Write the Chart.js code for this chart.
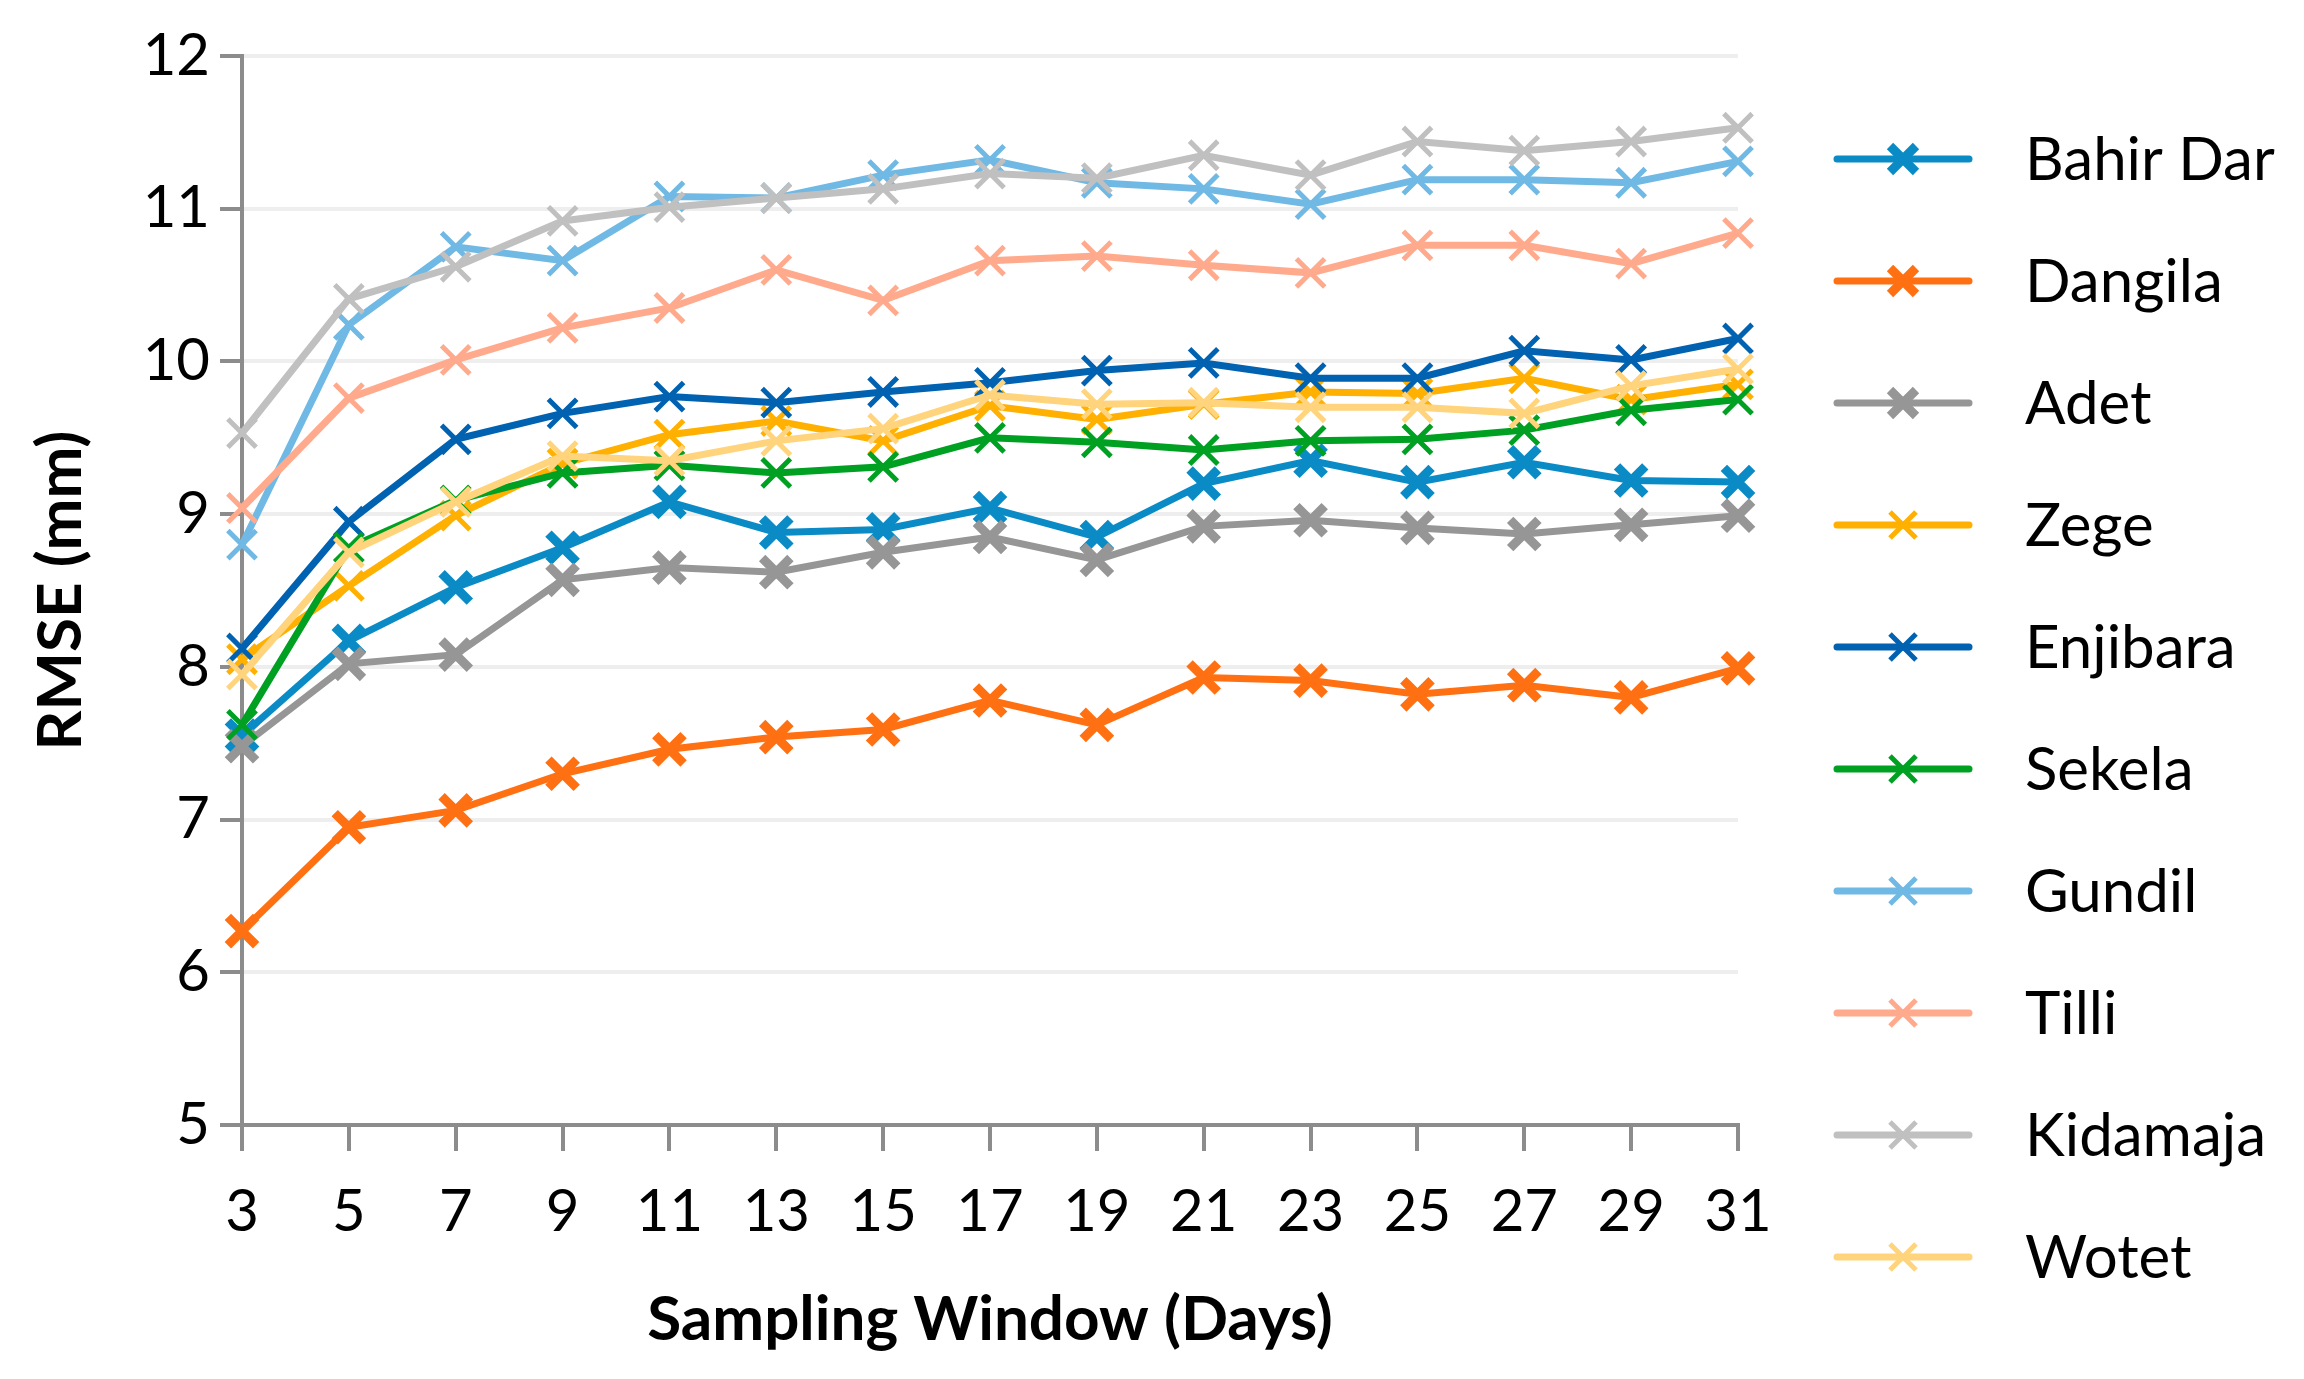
<!DOCTYPE html>
<html>
<head>
<meta charset="utf-8">
<script src="https://cdn.jsdelivr.net/npm/chart.js@4/dist/chart.umd.min.js"></script>
<style>
html,body{margin:0;padding:0;background:#fff;}
canvas{display:block;}
</style>
</head>
<body>
<canvas id="chart" width="2304" height="1379"></canvas>
<script>
// categories (sampling window, days)
const windows = ["3","5","7","9","11","13","15","17","19","21","23","25","27","29","31"];

// RMSE (mm) per station
const bahirDar = [7.55,8.17,8.52,8.78,9.08,8.88,8.90,9.04,8.85,9.20,9.35,9.21,9.34,9.22,9.21];
const dangila  = [6.27,6.95,7.06,7.30,7.46,7.54,7.59,7.78,7.62,7.93,7.91,7.82,7.88,7.80,7.99];
const adet     = [7.48,8.02,8.08,8.57,8.65,8.62,8.75,8.85,8.70,8.92,8.96,8.91,8.87,8.93,8.99];
const zege     = [8.05,8.53,8.99,9.33,9.52,9.61,9.48,9.71,9.62,9.72,9.80,9.79,9.89,9.75,9.85];
const enjibara = [8.12,8.95,9.49,9.66,9.77,9.73,9.80,9.86,9.94,9.99,9.89,9.89,10.07,10.01,10.15];
const sekela   = [7.62,8.78,9.09,9.27,9.32,9.27,9.31,9.50,9.47,9.42,9.48,9.49,9.55,9.68,9.75];
const gundil   = [8.80,10.24,10.75,10.66,11.08,11.07,11.22,11.32,11.17,11.13,11.03,11.19,11.19,11.17,11.31];
const tilli    = [9.04,9.76,10.01,10.22,10.35,10.60,10.40,10.66,10.69,10.63,10.58,10.76,10.76,10.64,10.84];
const kidamaja = [9.53,10.41,10.62,10.92,11.01,11.07,11.13,11.23,11.20,11.35,11.22,11.44,11.38,11.44,11.53];
const wotet    = [7.95,8.75,9.08,9.38,9.35,9.48,9.56,9.78,9.72,9.73,9.70,9.70,9.66,9.84,9.95];

const stations = ["Bahir Dar","Dangila","Adet","Zege","Enjibara","Sekela","Gundil","Tilli","Kidamaja","Wotet"];
const series = [bahirDar,dangila,adet,zege,enjibara,sekela,gundil,tilli,kidamaja,wotet];
const colors = ["#0A8BC6","#FF7012","#969696","#FFB000","#0062B0","#00A022","#70B9E4","#FFAA8C","#C0C0C0","#FFD47C"];
const yTicks = [5,6,7,8,9,10,11,12];

const FONT = "Lato, 'Open Sans', sans-serif";

const datasets = series.map(function(d,i){
  const heavy = i < 3;
  return {
    label: stations[i],
    data: d,
    borderColor: colors[i],
    backgroundColor: colors[i],
    borderWidth: 7,
    pointStyle: "crossRot",
    pointRadius: 20,
    pointBorderWidth: heavy ? 9 : 5,
    pointHoverRadius: 20,
    tension: 0,
    order: series.length - i
  };
});

// legend drawn with line + marker, like the original
const lineLegend = {
  id: "lineLegend",
  afterDraw(chart){
    const c = chart.ctx;
    c.save();
    stations.forEach(function(name,i){
      const y = 159 + i*122;
      c.strokeStyle = colors[i];
      c.lineWidth = 7;
      c.lineCap = "round";
      c.beginPath();
      c.moveTo(1837,y);
      c.lineTo(1969,y);
      c.stroke();
      const h = 13;
      c.lineCap = "butt";
      c.lineWidth = i < 3 ? 9 : 5;
      c.beginPath();
      c.moveTo(1903-h,y-h); c.lineTo(1903+h,y+h);
      c.moveTo(1903-h,y+h); c.lineTo(1903+h,y-h);
      c.stroke();
      c.fillStyle = "#000";
      c.font = "60px " + FONT;
      c.textAlign = "left";
      c.textBaseline = "middle";
      c.fillText(name,2025,y+2);
    });
    c.restore();
  }
};

const ctx = document.getElementById("chart").getContext("2d");
const chart = new Chart(ctx,{
  type: "line",
  data: { labels: windows, datasets: datasets },
  options: {
    responsive: false,
    animation: false,
    devicePixelRatio: 1,
    layout: { padding: { left: 20, right: 566, top: 56, bottom: 0 } },
    plugins: { legend: { display: false }, tooltip: { enabled: false } },
    scales: {
      x: {
        offset: false,
        grid: { drawOnChartArea: false, color: "#8c8c8c", lineWidth: 4, tickLength: 26, offset: false },
        border: { color: "#8c8c8c", width: 4 },
        ticks: { color: "#000", font: { family: FONT, size: 58 }, padding: 26, maxRotation: 0, autoSkip: false },
        title: { display: true, text: "Sampling Window (Days)", color: "#000", font: { family: FONT, size: 62, weight: "bold" }, padding: { top: 0, bottom: 22 } },
        afterFit(s){ s.height = 1379 - 1125; }
      },
      y: {
        min: 5, max: 12,
        afterBuildTicks(s){ s.ticks = yTicks.map(v => ({ value: v })); },
        grid: { color: "#eeeeee", lineWidth: 4, tickColor: "#8c8c8c", tickWidth: 4, tickLength: 22 },
        border: { color: "#8c8c8c", width: 4 },
        ticks: { color: "#000", font: { family: FONT, size: 58 }, padding: 10 },
        title: { display: true, text: "RMSE (mm)", color: "#000", font: { family: FONT, size: 62, weight: "bold" }, padding: { bottom: 20 } },
        afterFit(s){ s.width = 242 - 20; }
      }
    }
  },
  plugins: [lineLegend]
});
</script>
</body>
</html>
